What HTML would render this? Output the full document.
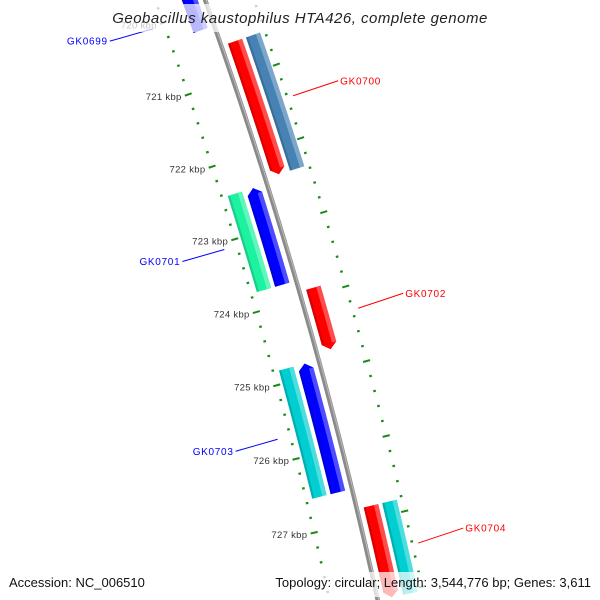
<!DOCTYPE html>
<html><head><meta charset="utf-8"><style>
html,body{margin:0;padding:0;background:#fff;width:600px;height:600px;overflow:hidden;}
svg{display:block;font-family:"Liberation Sans",sans-serif;overflow:hidden;}
</style></head><body>
<svg id="map" width="600" height="600" viewBox="0 0 600 600" xmlns="http://www.w3.org/2000/svg">
<defs><clipPath id="frame"><rect width="600" height="600"/></clipPath></defs>
<rect width="600" height="600" fill="#fff"/>
<g clip-path="url(#frame)">
<g id="ticks"></g>
<g id="backbone"></g>
<g id="genes"></g>
<g id="labels"></g>
</g>
<rect x="113" y="4" width="374" height="28" fill="#fff" fill-opacity="0.72"/>
<text x="300" y="23" text-anchor="middle" font-size="15" font-style="italic" letter-spacing="0.5" fill="#222">Geobacillus kaustophilus HTA426, complete genome</text>
<rect x="4" y="572" width="146" height="25" fill="#fff" fill-opacity="0.72"/>
<text x="9" y="587" font-size="13" fill="#111">Accession: NC_006510</text>
<rect x="257" y="572" width="339" height="25" fill="#fff" fill-opacity="0.72"/>
<text x="591" y="587" text-anchor="end" font-size="13" fill="#111">Topology: circular; Length: 3,544,776 bp; Genes: 3,611</text>
</svg>
<script>
// ---- data ----
const geneNames  = ["GK0699","GK0700","GK0700b","GK0701","GK0701b","GK0702","GK0703","GK0703b","GK0704","GK0704b"];
const geneStarts = [719.80, 720.54, 720.54, 722.43, 722.43, 723.90, 724.82, 724.82, 726.83, 726.83];
const geneEnds   = [720.26, 722.36, 722.36, 723.75, 723.75, 724.73, 726.56, 726.56, 728.05, 728.05];
const geneStrand = [-1, 1, 1, -1, -1, 1, -1, -1, 1, 1];
const geneTrack  = [1, 1, 2, 1, 2, 1, 1, 2, 1, 2];
const geneColors = ["#0000ff","#ff0000","#4682b4","#0000ff","#1df2a0","#ff0000","#0000ff","#00ced1","#ff0000","#00ced1"];
const geneArrow  = [false, true, false, true, false, true, true, false, true, false];
const labelNames = ["GK0699","GK0700","GK0701","GK0702","GK0703","GK0704"];
const labelStart = [719.80, 720.54, 722.43, 723.90, 724.82, 726.83];
const labelEnd   = [720.26, 722.36, 723.75, 724.73, 726.56, 728.05];
const labelStrand= [-1, 1, -1, 1, -1, 1];
const tickMajor  = [720, 721, 722, 723, 724, 725, 726, 727, 728];
const tickLabels = ["720 kbp","721 kbp","722 kbp","723 kbp","724 kbp","725 kbp","726 kbp","727 kbp","728 kbp"];

// ---- geometry (axis functions) ----
const CX = -4408, CY = 1652, R0 = 4900;
const A0 = 71.28, DEG_PER_KBP = 0.8975;
function ang(kbp){ return (A0 + (kbp - 721) * DEG_PER_KBP) * Math.PI / 180; }
function pt(kbp, r){ const a = ang(kbp); return [CX + r * Math.sin(a), CY - r * Math.cos(a)]; }
const NS = "http://www.w3.org/2000/svg";
function mk(tag, attrs, parent){ const e = document.createElementNS(NS, tag); for (const k in attrs) e.setAttribute(k, attrs[k]); parent.appendChild(e); return e; }
function arcPts(k1, k2, r){ const out=[]; const n = Math.max(2, Math.ceil(Math.abs(k2-k1)/0.05)); for(let i=0;i<=n;i++){ out.push(pt(k1+(k2-k1)*i/n, r)); } return out; }
function polyStr(p){ return p.map(q=>q[0].toFixed(2)+","+q[1].toFixed(2)).join(" "); }

// backbone
const bb = document.getElementById("backbone");
const bbPath = mk("polyline", {points: polyStr(arcPts(719.3, 728.3, R0)), fill:"none", stroke:"#8a8a8a", "stroke-width":4.5}, bb);


const bbHi = mk("polyline", {points: polyStr(arcPts(719.3, 728.3, R0+1)), fill:"none", stroke:"#b5b5b5", "stroke-width":1.2}, bb);



// ticks
const tg = document.getElementById("ticks");
const RIN = 4853, ROUT = 4946;
for (let k = 719.4; k <= 728.4; k += 0.2) {
  const kk = Math.round(k*10)/10;
  const major = Math.abs(kk - Math.round(kk)) < 0.01;
  const len = major ? 3.6 : 1.3;
  [RIN, ROUT].forEach(r => {
    const a = pt(kk, r - len), b = pt(kk, r + len);
    const t = mk("line", {x1:a[0],y1:a[1],x2:b[0],y2:b[1],stroke:"#1a8a1a","stroke-width":major?2:2.2}, tg);
    
    
  });
}
tickMajor.forEach((k, i) => {
  const p = pt(k, RIN - 7);
  const t = mk("text", {x:p[0], y:p[1]+3.5, "text-anchor":"end", "font-size":"9.5", fill:"#333", "letter-spacing":"0.3"}, tg);
  t.textContent = tickLabels[i];
  
  
});

// genes
const gg = document.getElementById("genes");
const T1 = [7, 22], T2 = [26, 41];
geneNames.forEach((nm, i) => {
  const tr = geneTrack[i] === 1 ? T1 : T2;
  const s = geneStrand[i];
  const r1 = R0 + s * tr[0], r2 = R0 + s * tr[1];
  const rl = Math.min(r1,r2), rh = Math.max(r1,r2);
  const st = geneStarts[i], en = geneEnds[i];
  const d = 0.08;
  let pts;
  if (geneArrow[i] && s === 1) {
    pts = arcPts(st, en-d, rh).concat([pt(en, (rl+rh)/2)]).concat(arcPts(en-d, st, rl));
  } else if (geneArrow[i] && s === -1) {
    pts = arcPts(st+d, en, rh).concat(arcPts(en, st+d, rl)).concat([pt(st, (rl+rh)/2)]);
  } else {
    pts = arcPts(st, en, rh).concat(arcPts(en, st, rl));
  }
  const g = mk("g", {}, gg);
  
  
  const body = mk("polygon", {points: polyStr(pts), fill: geneColors[i]}, g);
  
  
  const e0 = geneArrow[i] && s===1 ? en-d : en;
  const s0 = geneArrow[i] && s===-1 ? st+d : st;
  const w = rh - rl;
  const hi = arcPts(s0, e0, rh).concat(arcPts(e0, s0, rh - w*0.3));
  const hl = mk("polygon", {points: polyStr(hi), fill:"#fff", "fill-opacity":"0.3"}, g);
  
  
  const lo = arcPts(s0, e0, rl + w*0.15).concat(arcPts(e0, s0, rl));
  const sh = mk("polygon", {points: polyStr(lo), fill:"#000", "fill-opacity":"0.15"}, g);
  
  
});

// labels
const lg = document.getElementById("labels");
labelNames.forEach((nm, i) => {
  const mid = (labelStart[i] + labelEnd[i]) / 2;
  const s = labelStrand[i];
  const col = s === 1 ? "#ff0000" : "#0000ff";
  const p = pt(mid, s === 1 ? 4952 : 4840);
  const q = s === 1 ? [p[0]+45, p[1]-15] : [p[0]-42, p[1]+12];
  const ln = mk("line", {x1:p[0],y1:p[1],x2:q[0],y2:q[1],stroke:col,"stroke-width":1}, lg);
  
  
  const t = mk("text", {x: s===1 ? q[0]+2 : q[0]-2, y: q[1]+3.5, "text-anchor": s===1?"start":"end", "font-size":"10", "letter-spacing":"0.7", fill: col}, lg);
  t.textContent = nm;
  
  
});
</script>
</body></html>
